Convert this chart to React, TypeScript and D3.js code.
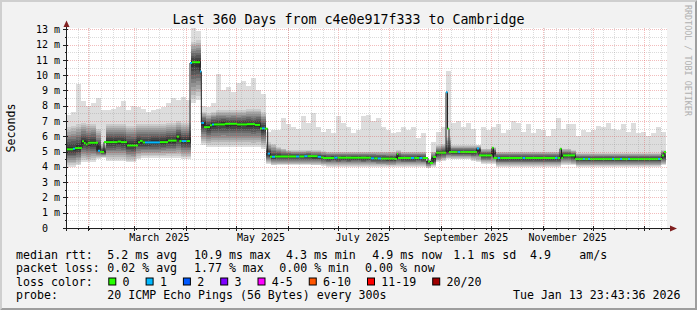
import React from "react";
import * as d3 from "d3";

// ---------- time range ----------
const END = Date.UTC(2026, 0, 13, 23, 43, 36);
const DAY = 86400000;
const SPAN_DAYS = 360;
const START = END - SPAN_DAYS * DAY;

// ---------- smoke (3-day bins, ms) ----------
const BIN_DAYS = 3;
const smokeCore = [
  5.15, 5.15, 5.23, 5.6, 5.52, 5.58, 5.2, 4.97, 5.62, 5.62,
  5.65, 5.62, 5.42, 5.4, 5.6, 5.58, 5.58, 5.6, 5.6, 5.62,
  5.7, 5.7, 5.9, 5.69, 5.69, 10.8, 10.8, 6.85, 6.62, 6.78,
  6.8, 6.82, 6.78, 6.8, 6.78, 6.8, 6.78, 6.75, 6.78, 6.5,
  4.85, 4.65, 4.68, 4.68, 4.7, 4.68, 4.68, 4.68, 4.7, 4.66,
  4.65, 4.6, 4.58, 4.6, 4.58, 4.6, 4.58, 4.6, 4.6, 4.58,
  4.6, 4.58, 4.55, 4.55, 4.52, 4.52, 4.62, 4.58, 4.58, 4.58,
  4.6, 4.58, 4.35, 4.5, 4.9, 4.93, 5.0, 4.97, 4.97, 4.97,
  4.97, 4.97, 5.1, 4.75, 4.75, 4.9, 4.58, 4.58, 4.58, 4.58,
  4.58, 4.58, 4.58, 4.58, 4.58, 4.58, 4.58, 4.58, 4.58, 4.75,
  4.75, 4.7, 4.51, 4.51, 4.51, 4.51, 4.51, 4.51, 4.51, 4.51,
  4.51, 4.51, 4.51, 4.51, 4.51, 4.51, 4.51, 4.51, 4.51, 4.7,
];
const smokeLow = [
  4.0, 4.0, 4.1, 4.3, 4.3, 4.3, 4.5, 4.6, 4.4, 4.4,
  4.4, 4.4, 4.3, 4.3, 4.5, 4.6, 4.6, 4.6, 4.6, 4.6,
  4.6, 4.6, 4.6, 4.5, 4.5, 8.2, 8.4, 5.4, 5.3, 5.3,
  5.3, 5.3, 5.3, 5.3, 5.3, 5.3, 5.3, 5.3, 5.3, 5.2,
  4.2, 4.1, 4.1, 4.1, 4.1, 4.1, 4.1, 4.1, 4.1, 4.1,
  4.1, 4.05, 4.0, 4.0, 4.0, 4.0, 4.0, 4.0, 4.0, 4.0,
  4.0, 4.0, 4.0, 4.0, 4.0, 4.0, 4.0, 4.0, 4.0, 4.0,
  4.0, 4.0, 3.9, 4.0, 4.3, 4.4, 4.5, 4.5, 4.5, 4.5,
  4.5, 4.4, 4.3, 4.2, 4.2, 4.2, 4.0, 4.0, 4.0, 4.0,
  4.0, 4.0, 4.0, 4.0, 4.0, 4.0, 4.0, 4.0, 4.0, 4.1,
  4.1, 4.1, 4.0, 4.0, 4.0, 4.0, 4.0, 4.0, 4.0, 4.0,
  4.0, 4.0, 4.0, 4.0, 4.0, 4.0, 4.0, 4.0, 4.0, 4.1,
];
const smokeDark = [
  6.6, 6.7, 6.8, 6.9, 6.8, 6.8, 6.5, 5.5, 6.8, 6.8,
  6.8, 6.8, 6.7, 6.7, 6.8, 6.8, 6.8, 6.8, 6.8, 6.8,
  6.9, 6.9, 7.0, 6.9, 6.9, 12.2, 12.3, 7.6, 7.5, 7.6,
  7.7, 7.7, 7.7, 7.7, 7.7, 7.7, 7.8, 7.8, 7.8, 7.6,
  5.6, 5.5, 5.3, 5.2, 5.1, 5.1, 5.1, 5.1, 5.1, 5.1,
  5.1, 5.05, 5.0, 5.0, 5.0, 5.0, 5.0, 5.0, 5.0, 5.0,
  5.0, 5.0, 5.0, 5.0, 5.0, 5.0, 5.1, 5.0, 5.0, 5.0,
  5.0, 5.0, 4.45, 5.0, 5.4, 5.5, 6.0, 5.4, 5.4, 5.4,
  5.4, 5.4, 5.4, 5.2, 5.2, 5.3, 5.0, 5.0, 5.0, 5.0,
  5.0, 5.0, 5.0, 5.0, 5.0, 5.0, 5.0, 5.0, 5.0, 5.2,
  5.2, 5.1, 4.9, 4.9, 4.9, 4.9, 4.9, 4.9, 4.9, 4.9,
  4.9, 4.9, 4.9, 4.9, 4.9, 4.9, 4.9, 4.9, 4.9, 5.1,
];
const smokeHigh = [
  7.4, 7.6, 9.4, 8.3, 8.0, 8.2, 8.5, 7.7, 7.7, 7.8,
  7.9, 8.3, 7.7, 8.0, 7.9, 7.8, 7.6, 7.7, 7.8, 7.9,
  8.2, 8.5, 8.4, 8.6, 8.4, 13.1, 12.9, 8.0, 7.9, 8.2,
  10.1, 9.0, 9.2, 8.9, 9.5, 9.6, 9.3, 9.8, 9.0, 8.8,
  6.3, 6.4, 6.4, 7.2, 6.8, 6.6, 6.5, 7.3, 6.9, 7.5,
  6.6, 6.3, 6.5, 6.2, 7.3, 6.9, 6.6, 6.2, 6.4, 7.3,
  7.4, 7.0, 7.2, 6.6, 6.4, 6.2, 6.3, 6.6, 6.4, 6.6,
  5.9, 6.2, 4.5, 5.6, 6.3, 6.6, 10.3, 6.9, 7.0, 6.6,
  6.9, 6.5, 5.4, 6.6, 6.4, 6.6, 6.8, 6.2, 6.4, 7.0,
  6.9, 6.3, 6.8, 6.2, 6.5, 6.4, 6.0, 6.5, 7.2, 6.5,
  6.8, 6.8, 6.0, 6.4, 6.3, 6.4, 6.7, 6.6, 6.9, 6.5,
  6.4, 6.8, 6.3, 6.9, 6.2, 6.3, 6.0, 6.2, 6.6, 6.3,
];

// ---------- median rtt (step changes: day offset, ms, loss class) ----------
const medianDay = [
  0, 4.2, 5.4, 9.6, 10.8, 11.8, 13.0, 19.2, 20.4, 22.8,
  31.0, 33.0, 36.6, 43.2, 44.4, 46.0, 47.4, 56.4, 61.2, 66.4,
  68.0, 69.4, 72.4, 74.4, 75.6, 80.4, 81.2, 82.8, 86.4, 87.6,
  88.8, 95.4, 102.6, 108.6, 113.4, 116.4, 117.6, 119.4, 121.0, 122.4,
  123.6, 125.4, 138.0, 140.0, 143.0, 145.0, 151.0, 153.0, 154.2, 161.0,
  163.0, 183.0, 185.0, 187.0, 189.0, 197.4, 198.6, 199.2, 207.0, 209.0,
  212.0, 214.0, 217.2, 218.4, 220.2, 222.0, 228.0, 228.9, 229.8, 235.0,
  236.5, 246.6, 247.8, 255.6, 256.5, 259.0, 260.5, 274.0, 275.5, 293.4,
  295.0, 296.4, 297.3, 298.2, 305.4, 310.2, 311.4, 313.2, 314.4, 327.6,
  328.8, 332.4, 333.6, 337.2, 338.4, 355.2, 356.4, 357.6, 358.8,
];
const medianValue = [
  5.15, 5.18, 5.23, 5.67, 5.56, 5.47, 5.58, 5.05, 4.97, 5.62,
  5.66, 5.62, 5.40, 5.62, 5.70, 5.60, 5.60, 5.62, 5.72, 5.98,
  5.69, 5.69, 5.69, 10.80, 10.85, 10.24, 6.88, 6.60, 6.72, 6.78,
  6.78, 6.82, 6.78, 6.80, 6.75, 6.52, 6.52, 6.50, 4.87, 4.66,
  4.66, 4.68, 4.68, 4.68, 4.70, 4.70, 4.66, 4.62, 4.58, 4.60,
  4.60, 4.56, 4.56, 4.55, 4.54, 4.52, 4.85, 4.58, 4.58, 4.58,
  4.58, 4.58, 4.35, 4.25, 4.65, 4.93, 8.88, 6.50, 4.97, 4.97,
  4.97, 5.20, 4.75, 5.25, 4.58, 4.58, 4.58, 4.58, 4.58, 4.58,
  4.58, 5.19, 4.58, 4.75, 4.51, 4.51, 4.51, 4.51, 4.51, 4.51,
  4.51, 4.51, 4.51, 4.51, 4.51, 4.51, 4.51, 4.75, 4.97,
];
const medianLoss = [
  0, 1, 0, 0, 0, 0, 0, 1, 0, 0,
  0, 0, 0, 0, 0, 0, 1, 0, 0, 0,
  0, 1, 0, 1, 0, 1, 1, 0, 0, 1,
  0, 0, 0, 0, 0, 0, 1, 0, 1, 0,
  1, 0, 1, 0, 1, 0, 1, 0, 0, 1,
  0, 1, 0, 1, 0, 0, 0, 0, 1, 0,
  1, 0, 0, 0, 0, 0, 1, 0, 0, 1,
  0, 1, 0, 0, 0, 1, 0, 1, 0, 1,
  0, 0, 0, 0, 0, 1, 0, 1, 0, 1,
  0, 1, 0, 1, 0, 1, 0, 0, 0,
];

// ---------- legend / labels ----------
const lossLabels = ["0", "1", "2", "3", "4-5", "6-10", "11-19", "20/20"];
const lossColors = ["#26ff00", "#00b8ff", "#0059ff", "#7e00ff", "#ff00ff", "#ff5500", "#ff0000", "#a00000"];
const yTicks = [0, 1, 2, 3, 4, 5, 6, 7, 8, 9, 10, 11, 12, 13];
const title = "Last 360 Days from c4e0e917f333 to Cambridge";
const yTitle = "Seconds";
const rttLine = ["median rtt:", "5.2 ms avg", "10.9 ms max", "4.3 ms min", "4.9 ms now", "1.1 ms sd", "4.9", "am/s"];
const lossLine = ["packet loss:", "0.02 % avg", "1.77 % max", "0.00 % min", "0.00 % now"];
const probeLine = ["probe:", "20 ICMP Echo Pings (56 Bytes) every 300s"];
const stamp = "Tue Jan 13 23:43:36 2026";
const watermark = "RRDTOOL / TOBI OETIKER";

// ---------- layout ----------
const W = 697, H = 310;
const X0 = 66, X1 = 666, Y0 = 228, Y1 = 28;
const Y_MAX = 13.09;
const rttX = [16, 107.3, 194, 286, 372.3, 453.3, 530, 579.3];
const lossX = [16, 107.3, 194, 279.3, 365];
const FONT = "'DejaVu Sans Mono', monospace";
const LEG_FS = 11.6;
const CH = 6.98;

export default function App() {
  const x = d3.scaleUtc().domain([new Date(START), new Date(END)]).range([X0, X1]);
  const y = d3.scaleLinear().domain([0, Y_MAX]).range([Y0, Y1]);
  const dd = (d: number) => new Date(START + d * DAY);
  const px = (v: number) => Math.round(v) + 0.5;

  // smoke rects
  const smoke: JSX.Element[] = [];
  const shades = d3.range(10).map((k) => 221 - 19 * k);
  smokeCore.forEach((core, i) => {
    const xa = Math.round(x(dd(i * BIN_DAYS)));
    const xb = Math.round(x(dd(Math.min(SPAN_DAYS, (i + 1) * BIN_DAYS))));
    const lo = smokeLow[i], hi = smokeHigh[i], dk = smokeDark[i];
    shades.forEach((g, k) => {
      let lower: number, upper: number;
      if (k === 0) { lower = lo; upper = hi; }
      else {
        lower = lo + (core - lo) * (k / 10);
        upper = dk - (dk - core) * ((k - 1) / 9);
      }
      const ya = Math.round(y(upper)), yb = Math.round(y(lower));
      smoke.push(
        <rect key={`s${i}-${k}`} x={xa} y={ya} width={xb - xa} height={Math.max(0, yb - ya)}
          fill={`rgb(${g},${g},${g})`} shapeRendering="crispEdges" />
      );
    });
  });

  // median step path
  const pts: [number, number][] = medianDay.map((d, i) => [x(dd(d)), y(medianValue[i])]);
  pts.push([x(dd(SPAN_DAYS)), y(medianValue[medianValue.length - 1])]);
  const stepLine = d3.line().curve(d3.curveStepAfter)(pts) || "";

  const medSegs = medianDay.map((d, i) => {
    const xa = x(dd(d));
    const xb = x(dd(i + 1 < medianDay.length ? medianDay[i + 1] : SPAN_DAYS));
    const yy = y(medianValue[i]);
    return <line key={`m${i}`} x1={xa} x2={xb} y1={yy} y2={yy} stroke={lossColors[medianLoss[i]]} strokeWidth={2} />;
  });

  // grids
  const minorY = d3.range(0.5, Y_MAX, 1);
  const weeks = d3.utcSunday.range(new Date(START), new Date(END));
  const months = d3.utcMonth.range(new Date(START), new Date(END));
  const labelMonths = d3.utcMonth.every(2)!.range(new Date(START - 40 * DAY), new Date(END))
    .map((m) => new Date(m.getTime() + 15 * DAY))
    .filter((m) => m.getTime() > START && m.getTime() < END);
  const fmt = d3.utcFormat("%B %Y");

  const minorStroke = "rgba(143,143,143,0.32)";
  const majorStroke = "rgba(222,79,79,0.38)";

  // legend boxes positions
  let bx = 108.3;
  const boxes = lossLabels.map((lab, i) => {
    const cur = bx;
    bx += 37.3 + (lab.length - 1) * CH;
    return (
      <g key={`lb${i}`}>
        <rect x={cur + 0.5} y={278} width={7} height={7} fill={lossColors[i]} stroke="#000" strokeWidth={1} />
        <text x={cur + 14.3} y={285.8} fontSize={LEG_FS}>{lab}</text>
      </g>
    );
  });

  return (
    <svg width={W} height={H} style={{ position: "absolute", left: 0, top: 0 }} fontFamily={FONT}>
      <rect x={0} y={0} width={W} height={H} fill="#f2f2f2" />
      <polygon points={`0,0 ${W},0 ${W - 2},2 2,2 2,${H - 2} 0,${H}`} fill="#cfcfcf" />
      <polygon points={`${W},0 ${W},${H} 0,${H} 2,${H - 2} ${W - 2},${H - 2} ${W - 2},2`} fill="#9e9e9e" />
      <rect x={X0} y={Y1} width={X1 - X0 + 1} height={Y0 - Y1} fill="#ffffff" />

      {smoke}
      <path d={stepLine} fill="none" stroke="#202020" strokeWidth={1} />
      {medSegs}

      {/* grid */}
      <g strokeDasharray="1,1" strokeWidth={1}>
        {weeks.map((w, i) => (
          <line key={`wg${i}`} x1={px(x(w))} x2={px(x(w))} y1={Y1} y2={Y0} stroke={minorStroke} />
        ))}
        {minorY.map((v, i) => (
          <line key={`yg${i}`} x1={X0} x2={X1 + 1} y1={px(y(v))} y2={px(y(v))} stroke={minorStroke} />
        ))}
        {months.map((m, i) => (
          <line key={`mg${i}`} x1={px(x(m))} x2={px(x(m))} y1={Y1} y2={Y0} stroke={majorStroke} />
        ))}
        {yTicks.slice(1).map((v, i) => (
          <line key={`yM${i}`} x1={X0} x2={X1 + 1} y1={px(y(v))} y2={px(y(v))} stroke={majorStroke} />
        ))}
      </g>

      {/* axis ticks */}
      {weeks.map((w, i) => (
        <line key={`wt${i}`} x1={px(x(w))} x2={px(x(w))} y1={Y0} y2={Y0 + 2} stroke="#1f1f1f" />
      ))}
      {months.map((m, i) => (
        <line key={`mt${i}`} x1={px(x(m))} x2={px(x(m))} y1={Y0 - 2} y2={Y0 + 3} stroke="#1f1f1f" />
      ))}
      {minorY.map((v, i) => (
        <line key={`yt${i}`} x1={X0 - 1} x2={X0 + 1} y1={px(y(v))} y2={px(y(v))} stroke="#1f1f1f" />
      ))}
      {yTicks.map((v, i) => (
        <line key={`yT${i}`} x1={X0 - 3} x2={X0 + 2} y1={px(y(v))} y2={px(y(v))} stroke="#1f1f1f" />
      ))}

      {/* axes */}
      <line x1={X0 - 3} x2={X1 + 6} y1={Y0 + 0.5} y2={Y0 + 0.5} stroke="#1f1f1f" />
      <line x1={X0 + 0.5} x2={X0 + 0.5} y1={Y0 + 3} y2={Y1 - 3} stroke="#1f1f1f" />
      <polygon points={`${X0 + 0.5},20.5 ${X0 - 2.5},27 ${X0 + 3.5},27`} fill="#801f1f" />
      <polygon points={`${X1 + 11},${Y0 + 0.5} ${X1 + 4},${Y0 - 2.5} ${X1 + 4},${Y0 + 3.5}`} fill="#801f1f" />

      {/* y labels */}
      {yTicks.map((v, i) => (
        <text key={`yl${i}`} x={v === 0 ? 48 : 60} y={y(v) + 3.6} fontSize={10} textAnchor="end">
          {v === 0 ? "0" : `${v} m`}
        </text>
      ))}
      <text transform={`translate(15,${(Y0 + Y1) / 2}) rotate(-90)`} fontSize={11.6} textAnchor="middle">{yTitle}</text>

      {/* x labels */}
      {labelMonths.map((m, i) => (
        <text key={`xl${i}`} x={x(m)} y={241} fontSize={10} textAnchor="middle">{fmt(new Date(m.getTime() - 15 * DAY))}</text>
      ))}

      {/* title */}
      <text x={W / 2} y={23.5} fontSize={13.3} textAnchor="middle">{title}</text>

      {/* watermark */}
      <text transform="translate(684.5,5) rotate(90)" fontSize={8.4} fill="#b0b0b0">{watermark}</text>

      {/* legend */}
      {rttLine.map((t, i) => (
        <text key={`r${i}`} x={rttX[i]} y={258.5} fontSize={LEG_FS}>{t}</text>
      ))}
      {lossLine.map((t, i) => (
        <text key={`p${i}`} x={lossX[i]} y={272.2} fontSize={LEG_FS}>{t}</text>
      ))}
      <text x={16} y={285.8} fontSize={LEG_FS}>loss color:</text>
      {boxes}
      {probeLine.map((t, i) => (
        <text key={`pr${i}`} x={i === 0 ? 16 : 107.3} y={299.4} fontSize={LEG_FS}>{t}</text>
      ))}
      <text x={680.5} y={299.4} fontSize={LEG_FS} textAnchor="end">{stamp}</text>
    </svg>
  );
}
